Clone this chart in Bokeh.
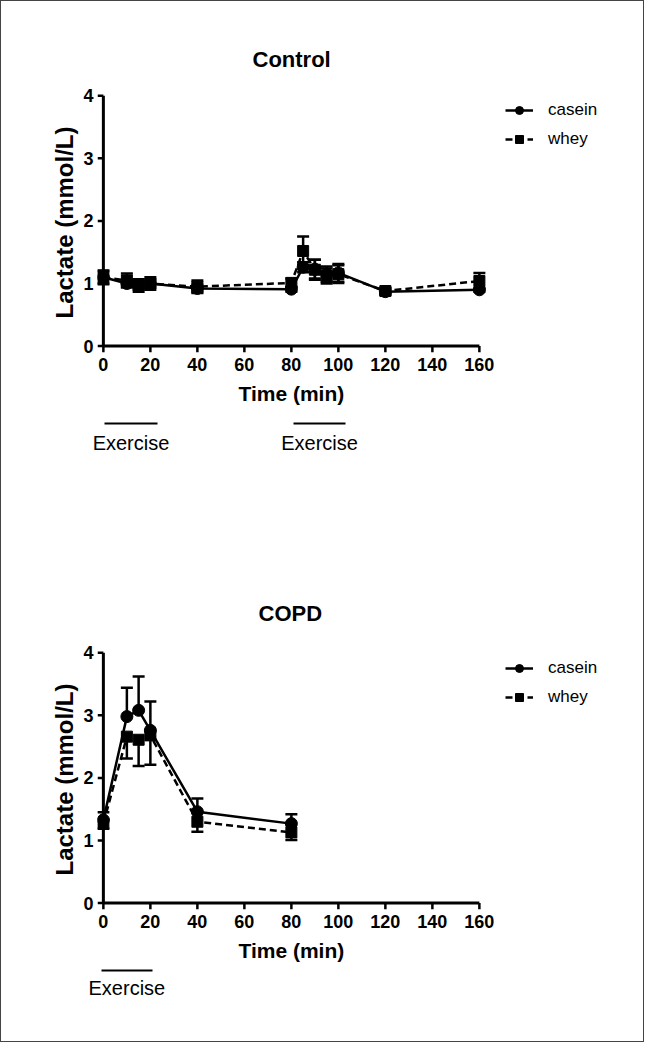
from bokeh.plotting import figure
from bokeh.models import (Range1d, Whisker, TeeHead, ColumnDataSource, Legend, LegendItem,
                          FixedTicker, LinearAxis, CustomJSTickFormatter)
from bokeh.layouts import column
from bokeh.embed import file_html
from bokeh.resources import INLINE

FONT = "Liberation Sans"

# ---------------- data ----------------
x_ticks = [0, 20, 40, 60, 80, 100, 120, 140, 160]
y_ticks = [0, 1, 2, 3, 4]

t_ctrl = [0, 10, 15, 20, 40, 80, 85, 90, 95, 100, 120, 160]
casein_ctrl = [1.10, 1.00, 0.97, 1.00, 0.92, 0.91, 1.26, 1.23, 1.15, 1.17, 0.87, 0.90]
casein_ctrl_sem = [0.10, 0.06, 0.06, 0.06, 0.06, 0.04, 0.08, 0.15, 0.12, 0.14, 0.05, 0.03]
whey_ctrl = [1.10, 1.05, 0.97, 1.00, 0.95, 1.01, 1.52, 1.22, 1.12, 1.15, 0.88, 1.04]
whey_ctrl_sem = [0.11, 0.11, 0.10, 0.10, 0.10, 0.07, 0.23, 0.16, 0.12, 0.14, 0.05, 0.13]

t_copd = [0, 10, 15, 20, 40, 80]
casein_copd = [1.33, 2.98, 3.08, 2.76, 1.46, 1.27]
casein_copd_sem = [0.12, 0.46, 0.54, 0.46, 0.21, 0.15]
whey_copd = [1.27, 2.66, 2.61, 2.68, 1.30, 1.13]
whey_copd_sem = [0.08, 0.35, 0.42, 0.47, 0.16, 0.12]

exercise_ctrl_start = [0.5, 81.0]
exercise_ctrl_end = [23.0, 103.0]
exercise_copd_start = [-1.0]
exercise_copd_end = [21.0]
series_names = ["casein", "whey"]

# ---------------- layout constants ----------------
FIG_W = 642
BORDER_L = 96
BORDER_R = 4
FRAME_W = FIG_W - BORDER_L - BORDER_R
PX_PER_MIN = 2.35
X_START = -2.5
X_END = X_START + FRAME_W / PX_PER_MIN
FRAME_H = 266


def plain_axis(ax):
    ax.axis_line_color = None
    ax.major_tick_line_color = None
    ax.minor_tick_line_color = None
    ax.major_tick_out = 0
    ax.major_tick_in = 0
    ax.minor_tick_out = 0
    ax.minor_tick_in = 0
    ax.major_label_text_font = FONT
    ax.major_label_text_color = "black"
    ax.axis_label_text_font = FONT
    ax.axis_label_text_color = "black"


def make_chart(title, fig_h, top_border, title_standoff, title_offset, t, cas, cas_sem,
               whey, whey_sem, err_mode, ex_starts, ex_ends, gap_font, gap_standoff,
               ex_standoff, legend_y):
    p = figure(width=FIG_W, height=fig_h, output_backend="svg", toolbar_location=None,
               x_range=Range1d(X_START, X_END), y_range=Range1d(-0.15, 4.1),
               min_border_left=BORDER_L, min_border_right=BORDER_R,
               min_border_top=top_border,
               min_border_bottom=fig_h - top_border - FRAME_H)
    p.outline_line_color = None
    p.grid.visible = False

    p.title.text = title
    p.title.align = "left"
    p.title.offset = title_offset
    p.title.standoff = title_standoff
    p.title.text_font = FONT
    p.title.text_font_style = "bold"
    p.title.text_font_size = "22px"
    p.title.text_color = "black"

    # y axis (labels only; line drawn at t=0 below)
    ya = p.yaxis[0]
    plain_axis(ya)
    ya.ticker = FixedTicker(ticks=y_ticks)
    ya.major_label_text_font_style = "bold"
    ya.major_label_text_font_size = "18px"
    ya.major_label_standoff = 4
    ya.axis_label = "Lactate (mmol/L)"
    ya.axis_label_text_font_style = "bold"
    ya.axis_label_text_font_size = "24px"
    ya.axis_label_standoff = 2

    # x tick labels
    xa = p.xaxis[0]
    plain_axis(xa)
    xa.ticker = FixedTicker(ticks=x_ticks)
    xa.major_label_text_font_style = "bold"
    xa.major_label_text_font_size = "18px"
    xa.major_label_standoff = 2

    # "Time (min)" centred under the drawn time axis
    ta = LinearAxis(ticker=FixedTicker(ticks=[x_ticks[len(x_ticks) // 2]]),
                    formatter=CustomJSTickFormatter(code="return 'Time (min)'"))
    plain_axis(ta)
    ta.major_label_text_font_style = "bold"
    ta.major_label_text_font_size = "21px"
    ta.major_label_standoff = 8
    ta.axis_label = "."
    ta.axis_label_text_alpha = 0
    ta.axis_label_text_font_size = gap_font
    ta.axis_label_standoff = gap_standoff
    p.add_layout(ta, "below")

    # exercise bars
    for a, b in zip(ex_starts, ex_ends):
        ba = LinearAxis(ticker=FixedTicker(ticks=[]), bounds=(a, b))
        plain_axis(ba)
        ba.axis_line_color = "black"
        ba.axis_line_width = 2
        ba.major_label_standoff = 0
        p.add_layout(ba, "below")

    # exercise labels
    ea = LinearAxis(ticker=FixedTicker(ticks=[(a + b) / 2 for a, b in zip(ex_starts, ex_ends)]),
                    formatter=CustomJSTickFormatter(code="return 'Exercise'"))
    plain_axis(ea)
    ea.major_label_text_font_size = "20px"
    ea.major_label_standoff = ex_standoff
    p.add_layout(ea, "below")

    # axis lines and outward ticks drawn at data zero
    p.segment(x0=[0, 0], y0=[0, 0], x1=[x_ticks[-1], 0], y1=[0, y_ticks[-1]],
              line_color="black", line_width=3)
    p.segment(x0=x_ticks, y0=[0] * len(x_ticks), x1=x_ticks, y1=[-0.1] * len(x_ticks),
              line_color="black", line_width=2.5)
    p.segment(x0=[0] * len(y_ticks), y0=y_ticks, x1=[X_START] * len(y_ticks), y1=y_ticks,
              line_color="black", line_width=2.5)

    src_c = ColumnDataSource(dict(t=t, y=cas,
                                  up=[a + b for a, b in zip(cas, cas_sem)],
                                  lo=[a - b for a, b in zip(cas, cas_sem)]))
    src_w = ColumnDataSource(dict(t=t, y=whey,
                                  up=[a + b for a, b in zip(whey, whey_sem)],
                                  lo=[a - b for a, b in zip(whey, whey_sem)]))

    def whisk(src, upper, lower, up_head, lo_head):
        w = Whisker(source=src, base="t", upper=upper, lower=lower,
                    line_color="black", line_width=2.5,
                    upper_head=TeeHead(size=12, line_width=2.5, line_color="black") if up_head else None,
                    lower_head=TeeHead(size=12, line_width=2.5, line_color="black") if lo_head else None)
        p.add_layout(w)

    if err_mode == "both":
        whisk(src_w, "up", "lo", True, True)
        whisk(src_c, "up", "lo", True, True)
    else:
        whisk(src_c, "up", "y", True, False)
        whisk(src_w, "y", "lo", False, True)

    lw = p.line("t", "y", source=src_w, line_color="black", line_width=2.5, line_dash="7 4")
    sw = p.scatter("t", "y", source=src_w, marker="square", size=11,
                   fill_color="black", line_color="black")
    lc = p.line("t", "y", source=src_c, line_color="black", line_width=2.5)
    sc = p.scatter("t", "y", source=src_c, marker="circle", size=12,
                   fill_color="black", line_color="black")

    legend = Legend(items=[LegendItem(label=series_names[0], renderers=[lc, sc]),
                           LegendItem(label=series_names[1], renderers=[lw, sw])],
                    location=(408, legend_y), glyph_width=28, glyph_height=20,
                    label_height=20, spacing=9, padding=0, margin=0,
                    label_standoff=15, label_text_font=FONT,
                    label_text_font_size="17px", label_text_color="black",
                    border_line_color=None, background_fill_alpha=0)
    p.add_layout(legend)
    return p


p1 = make_chart("Control", 510, 88, 35, 155, t_ctrl, casein_ctrl, casein_ctrl_sem,
                whey_ctrl, whey_ctrl_sem, "both", exercise_ctrl_start, exercise_ctrl_end,
                "12px", 4, 8, 206)
p2 = make_chart("COPD", 530, 135, 41, 161, t_copd, casein_copd, casein_copd_sem,
                whey_copd, whey_copd_sem, "split", exercise_copd_start, exercise_copd_end,
                "4px", 0, 6, 205)

layout = column(p1, p2, styles={"border": "1px solid #444444"})
open("out.html", "w").write(file_html(layout, INLINE))
